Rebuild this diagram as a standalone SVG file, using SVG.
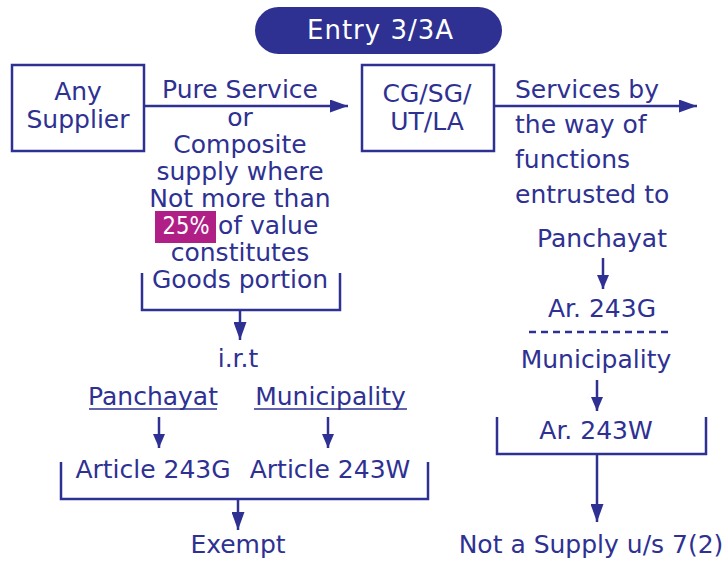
<svg xmlns="http://www.w3.org/2000/svg" width="727" height="562" viewBox="0 0 727 562">
<defs>
<style>
text{font-family:"DejaVu Sans","Liberation Sans",sans-serif;font-size:25px;fill:#2e3192}
.m{text-anchor:middle}
.w{fill:#ffffff}
.box{fill:#ffffff;stroke:#2e3192;stroke-width:2.5}
.ln{fill:none;stroke:#2e3192;stroke-width:2.5}
.ul{fill:none;stroke:#2e3192;stroke-width:1.5}
</style>
<marker id="ah" markerUnits="userSpaceOnUse" markerWidth="18" markerHeight="13" refX="18" refY="6.5" orient="auto">
<path d="M0,0 L18,6.5 L0,13 Z" fill="#2e3192"/>
</marker>
<marker id="as" markerUnits="userSpaceOnUse" markerWidth="14" markerHeight="12" refX="14" refY="6" orient="auto">
<path d="M0,0 L14,6 L0,12 Z" fill="#2e3192"/>
</marker>
</defs>
<rect width="727" height="562" fill="#ffffff"/>

<g id="connectors">
<line class="ln" x1="144" y1="106" x2="348" y2="106" marker-end="url(#ah)"/>
<line class="ln" x1="494" y1="106" x2="697" y2="106" marker-end="url(#ah)"/>
<polyline class="ln" points="142,273 142,310 340,310 340,273"/>
<line class="ln" x1="240" y1="310" x2="240" y2="340" marker-end="url(#ah)"/>
<line class="ln" x1="159" y1="417" x2="159" y2="448" marker-end="url(#as)"/>
<line class="ln" x1="328" y1="417" x2="328" y2="448" marker-end="url(#as)"/>
<polyline class="ln" points="61,462 61,499 428,499 428,462"/>
<line class="ln" x1="238" y1="499" x2="238" y2="530" marker-end="url(#ah)"/>
<line class="ln" x1="603" y1="258" x2="603" y2="289" marker-end="url(#as)"/>
<line class="ln" x1="529" y1="332" x2="673" y2="332" stroke-dasharray="7,5"/>
<line class="ln" x1="597" y1="380" x2="597" y2="411" marker-end="url(#as)"/>
<polyline class="ln" points="497,417 497,454 706,454 706,417"/>
<line class="ln" x1="597" y1="454" x2="597" y2="522" marker-end="url(#ah)"/>
</g>

<g id="entry">
<rect x="255" y="7" width="247" height="47" rx="23.5" fill="#2e3192"/>
<text class="m w" x="380" y="39" style="font-size:26px" textLength="146">Entry 3/3A</text>
</g>

<g id="any-supplier">
<rect class="box" x="12" y="65" width="132" height="86"/>
<text class="m" x="78" y="100">Any</text>
<text class="m" x="78" y="128">Supplier</text>
</g>

<g id="cg-box">
<rect class="box" x="362" y="65" width="132" height="86"/>
<text class="m" x="427" y="102">CG/SG/</text>
<text class="m" x="427" y="130">UT/LA</text>
</g>

<g id="condition">
<text class="m" x="240" y="98">Pure Service</text>
<text class="m" x="240" y="126">or</text>
<text class="m" x="240" y="153">Composite</text>
<text class="m" x="240" y="180">supply where</text>
<text class="m" x="240" y="207">Not more than</text>
<rect x="155" y="211" width="61" height="32" fill="#b01f86"/>
<text class="m w" x="186" y="234" textLength="47" lengthAdjust="spacingAndGlyphs">25%</text>
<text x="218" y="234">of value</text>
<text class="m" x="240" y="261">constitutes</text>
<text class="m" x="240" y="288">Goods portion</text>
</g>

<g id="services">
<text x="515" y="98">Services by</text>
<text x="515" y="133">the way of</text>
<text x="515" y="168">functions</text>
<text x="515" y="203">entrusted to</text>
</g>

<g id="irt"><text class="m" x="238" y="367">i.r.t</text></g>

<g id="panchayat-left">
<text class="m" x="153" y="405">Panchayat</text>
<line class="ul" x1="89" y1="409" x2="217" y2="409"/>
</g>
<g id="municipality-left">
<text class="m" x="330.5" y="405">Municipality</text>
<line class="ul" x1="254" y1="409" x2="407" y2="409"/>
</g>
<g id="article-243g"><text class="m" x="153" y="478">Article 243G</text></g>
<g id="article-243w"><text class="m" x="330" y="478">Article 243W</text></g>
<g id="exempt"><text class="m" x="238" y="553">Exempt</text></g>

<g id="panchayat-right"><text class="m" x="602" y="247">Panchayat</text></g>
<g id="ar-243g"><text class="m" x="602" y="317">Ar. 243G</text></g>
<g id="municipality-right"><text class="m" x="596" y="368">Municipality</text></g>
<g id="ar-243w"><text class="m" x="596" y="439">Ar. 243W</text></g>
<g id="not-supply"><text class="m" x="591" y="553">Not a Supply u/s 7(2)</text></g>
</svg>
